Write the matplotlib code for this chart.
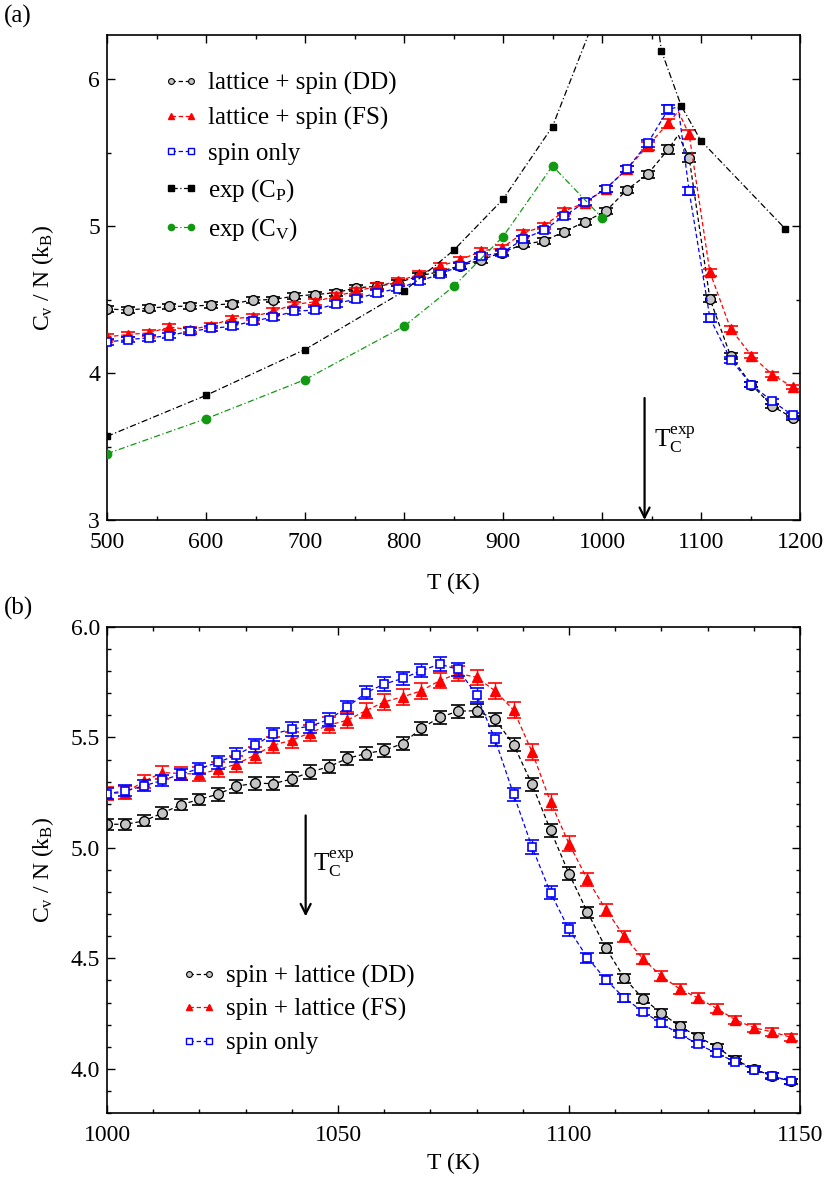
import matplotlib
matplotlib.use("Agg")
import matplotlib.pyplot as plt
from matplotlib.lines import Line2D
from matplotlib.ticker import MultipleLocator, FormatStrFormatter

plt.rcParams['font.family'] = ['Liberation Serif', 'DejaVu Serif']
plt.rcParams['mathtext.fontset'] = 'custom'
plt.rcParams['mathtext.rm'] = 'Liberation Serif'
plt.rcParams['mathtext.it'] = 'Liberation Serif:italic'
plt.rcParams['font.size'] = 17

# ---------------- Panel (a) data ----------------
T_a = [500, 521, 542, 563, 584, 605, 626, 647, 668, 689, 710, 731, 752, 773, 794,
       815, 836, 857, 878, 899, 920, 941, 962, 983, 1004, 1025, 1046, 1067, 1088,
       1109, 1130, 1151, 1172, 1193]
dd_a = [4.437, 4.428, 4.441, 4.453, 4.455, 4.462, 4.471, 4.496, 4.500, 4.523, 4.534,
        4.546, 4.580, 4.590, 4.615, 4.660, 4.690, 4.730, 4.770, 4.820, 4.875, 4.898,
        4.962, 5.030, 5.102, 5.246, 5.352, 5.523, 5.466, 4.505, 4.114, 3.921, 3.774, 3.694]
fs_a = [4.246, 4.262, 4.273, 4.312, 4.296, 4.323, 4.369, 4.382, 4.421, 4.466, 4.485,
        4.523, 4.557, 4.591, 4.625, 4.671, 4.727, 4.770, 4.830, 4.853, 4.950, 5.000,
        5.102, 5.159, 5.255, 5.387, 5.545, 5.700, 5.625, 4.686, 4.300, 4.119, 3.989, 3.903]
sp_a = [4.210, 4.228, 4.239, 4.255, 4.284, 4.303, 4.318, 4.353, 4.380, 4.421, 4.428,
        4.471, 4.505, 4.546, 4.575, 4.625, 4.671, 4.730, 4.796, 4.818, 4.909, 4.973,
        5.068, 5.164, 5.255, 5.387, 5.562, 5.795, 5.239, 4.375, 4.091, 3.921, 3.807, 3.712]
err_a = [0.02] * 26 + [0.025, 0.03, 0.03, 0.025, 0.02, 0.015, 0.015, 0.015]

# extra (unmarked) vertex of the curves near the peak
T_peak = 1077
dd_peak = 5.62
fs_peak = 5.78
sp_peak = 5.81

T_cp = [500, 600, 700, 800, 850, 900, 950, 1040, 1060, 1080, 1100, 1185]
cp_exp = [3.569, 3.848, 4.160, 4.557, 4.834, 5.182, 5.677, 7.23, 6.193, 5.818, 5.580, 4.982]
T_cv = [500, 600, 700, 800, 850, 900, 950, 1000]
cv_exp = [3.451, 3.689, 3.955, 4.318, 4.589, 4.928, 5.409, 5.057]

Tc_exp = 1043

# ---------------- Panel (b) data ----------------
T_b = [1000, 1004, 1008, 1012, 1016, 1020, 1024, 1028, 1032, 1036, 1040, 1044, 1048,
       1052, 1056, 1060, 1064, 1068, 1072, 1076, 1080, 1084, 1088, 1092, 1096, 1100,
       1104, 1108, 1112, 1116, 1120, 1124, 1128, 1132, 1136, 1140, 1144, 1148]
dd_b = [5.107, 5.107, 5.122, 5.158, 5.195, 5.220, 5.243, 5.279, 5.293, 5.291, 5.312,
        5.344, 5.367, 5.405, 5.427, 5.442, 5.472, 5.541, 5.591, 5.619, 5.621, 5.582,
        5.468, 5.288, 5.080, 4.883, 4.709, 4.546, 4.410, 4.318, 4.252, 4.192, 4.145,
        4.098, 4.041, 3.999, 3.968, 3.943]
fs_b = [5.246, 5.250, 5.302, 5.341, 5.337, 5.334, 5.355, 5.379, 5.420, 5.465, 5.488,
        5.521, 5.556, 5.578, 5.621, 5.661, 5.684, 5.711, 5.757, 5.790, 5.772, 5.711,
        5.624, 5.435, 5.208, 5.019, 4.857, 4.720, 4.599, 4.498, 4.420, 4.361, 4.320,
        4.273, 4.222, 4.186, 4.167, 4.143]
sp_b = [5.246, 5.258, 5.281, 5.306, 5.334, 5.359, 5.387, 5.420, 5.465, 5.515, 5.538,
        5.551, 5.581, 5.637, 5.702, 5.742, 5.767, 5.802, 5.832, 5.808, 5.692, 5.491,
        5.243, 5.004, 4.797, 4.631, 4.503, 4.403, 4.320, 4.259, 4.206, 4.156, 4.111,
        4.070, 4.032, 3.996, 3.968, 3.943]
dd_err_b = [0.025] * 6 + [0.03] * 20 + [0.025, 0.022, 0.02, 0.02, 0.019, 0.018, 0.017,
                                         0.016, 0.015, 0.014, 0.013, 0.012]
fs_err_b = [0.03] * 6 + [0.035] * 20 + [0.03, 0.027, 0.025, 0.024, 0.023, 0.022, 0.021,
                                         0.02, 0.019, 0.018, 0.017, 0.016]
sp_err_b = [0.025] * 6 + [0.03] * 20 + [0.022, 0.02, 0.018, 0.016, 0.015, 0.014, 0.013,
                                         0.012, 0.012, 0.011, 0.011, 0.01]

labels_a = ['lattice + spin (DD)', 'lattice + spin (FS)', 'spin only',
            r'exp (C$_\mathrm{P}$)', r'exp (C$_\mathrm{V}$)']
labels_b = ['spin + lattice (DD)', 'spin + lattice (FS)', 'spin only']

# ---------------- styles ----------------
GREY = '#c4c4c4'
GREEN = '#119911'
sty = {
    'dd': dict(color='black', marker='o', mfc=GREY, mec='black', ms=7.0, mew=1.0),
    'fs': dict(color='red', marker='^', mfc='red', mec='red', ms=7.0, mew=1.0),
    'sp': dict(color='blue', marker='s', mfc='white', mec='blue', ms=6.2, mew=1.2),
}
dash = (0, (3.5, 2.2))
dashdot = (0, (5, 2, 1, 2))

W, H = 830, 1183
fig = plt.figure(figsize=(W / 100, H / 100), dpi=100)
axA = fig.add_axes([107 / W, 1 - 520 / H, 693 / W, 485 / H])
axB = fig.add_axes([107 / W, 1 - 1113 / H, 693 / W, 486 / H])


def style_axes(ax):
    ax.tick_params(which='both', direction='in', top=True, right=True,
                   labelsize=17, width=1.0)
    ax.tick_params(which='major', length=6)
    ax.tick_params(which='minor', length=3)
    ax.tick_params(axis='y', which='major', pad=5)
    ax.tick_params(axis='x', which='major', pad=8.5)
    for s in ax.spines.values():
        s.set_linewidth(1.2)


def draw_sim(ax, T, y, err, key, peakT=None, peakY=None, z=2):
    s = sty[key]
    if peakT is not None:
        pts = sorted(list(zip(T, y)) + [(peakT, peakY)])
        lx = [p[0] for p in pts]
        ly = [p[1] for p in pts]
    else:
        lx, ly = T, y
    ax.plot(lx, ly, color=s['color'], lw=0.9, ls=dash, zorder=z)
    ax.errorbar(T, y, yerr=err, fmt='none', ecolor=s['color'], elinewidth=1.0,
                capsize=5, capthick=1.2, zorder=z + 0.1)
    ax.plot(T, y, ls='none', marker=s['marker'], mfc=s['mfc'], mec=s['mec'],
            ms=s['ms'], mew=s['mew'], zorder=z + 0.2)


# ---------------- Panel (a) ----------------
draw_sim(axA, T_a, dd_a, err_a, 'dd', T_peak, dd_peak, z=2)
draw_sim(axA, T_a, fs_a, err_a, 'fs', T_peak, fs_peak, z=3)
draw_sim(axA, T_a, sp_a, err_a, 'sp', T_peak, sp_peak, z=4)
axA.plot(T_cp, cp_exp, color='black', lw=0.9, ls=dashdot, marker='s', ms=5,
         mfc='black', mec='black', zorder=5)
axA.plot(T_cv, cv_exp, color=GREEN, lw=0.9, ls=dashdot, marker='o', ms=6,
         mfc=GREEN, mec=GREEN, zorder=5)

axA.set_xlim(500, 1200)
axA.set_ylim(3, 6.3)
axA.xaxis.set_major_locator(MultipleLocator(100))
axA.xaxis.set_minor_locator(MultipleLocator(50))
axA.yaxis.set_major_locator(MultipleLocator(1))
axA.yaxis.set_minor_locator(MultipleLocator(0.5))
style_axes(axA)
axA.set_xlabel('T (K)', fontsize=17)
axA.set_ylabel(r'C$_\mathrm{v}$ / N (k$_\mathrm{B}$)', fontsize=17)
axA.xaxis.set_label_coords(0.5, -0.108)
axA.yaxis.set_label_coords(-0.073, 0.5)

axA.annotate('', xy=(Tc_exp, 3.0), xytext=(Tc_exp, 3.83),
             arrowprops=dict(arrowstyle='->', color='black', lw=1.6,
                             shrinkA=0, shrinkB=0, mutation_scale=18))
axA.text(1053, 3.55, r'T$_\mathrm{C}^\mathrm{exp}$', fontsize=18, ha='left', va='center')

hA = [
    Line2D([], [], color='black', ls=dash, lw=0.9, marker='o', mfc=GREY, mec='black', ms=4.2, mew=0.8),
    Line2D([], [], color='red', ls=dash, lw=0.9, marker='^', mfc='red', mec='red', ms=4.5),
    Line2D([], [], color='blue', ls=dash, lw=0.9, marker='s', mfc='white', mec='blue', ms=4.0, mew=1.0),
    Line2D([], [], color='black', ls=dashdot, lw=0.9, marker='s', mfc='black', mec='black', ms=4.0),
    Line2D([], [], color=GREEN, ls=dashdot, lw=0.9, marker='o', mfc=GREEN, mec=GREEN, ms=4.5),
]
axA.legend(hA, labels_a, loc='upper left', bbox_to_anchor=(0.082, 0.924), frameon=False,
           fontsize=18, handlelength=1.4, handletextpad=0.35, labelspacing=0.49,
           borderaxespad=0, borderpad=0, numpoints=2)

fig.text(4 / W, 1 - 16 / H, '(a)', fontsize=18, ha='left', va='center')

# ---------------- Panel (b) ----------------
draw_sim(axB, T_b, dd_b, dd_err_b, 'dd', z=2)
draw_sim(axB, T_b, fs_b, fs_err_b, 'fs', z=3)
draw_sim(axB, T_b, sp_b, sp_err_b, 'sp', z=4)

axB.set_xlim(1000, 1150)
axB.set_ylim(3.8, 6.0)
axB.xaxis.set_major_locator(MultipleLocator(50))
axB.xaxis.set_minor_locator(MultipleLocator(10))
axB.yaxis.set_major_locator(MultipleLocator(0.5))
axB.yaxis.set_minor_locator(MultipleLocator(0.1))
axB.yaxis.set_major_formatter(FormatStrFormatter('%.1f'))
style_axes(axB)
axB.set_xlabel('T (K)', fontsize=17)
axB.set_ylabel(r'C$_\mathrm{v}$ / N (k$_\mathrm{B}$)', fontsize=17)
axB.xaxis.set_label_coords(0.5, -0.082)
axB.yaxis.set_label_coords(-0.073, 0.5)

axB.annotate('', xy=(Tc_exp, 4.69), xytext=(Tc_exp, 5.147),
             arrowprops=dict(arrowstyle='->', color='black', lw=1.6,
                             shrinkA=0, shrinkB=0, mutation_scale=18))
axB.text(1044.5, 4.93, r'T$_\mathrm{C}^\mathrm{exp}$', fontsize=18, ha='left', va='center')

hB = hA[:3]
axB.legend(hB, labels_b, loc='upper left', bbox_to_anchor=(0.108, 0.305), frameon=False,
           fontsize=18, handlelength=1.4, handletextpad=0.35, labelspacing=0.42,
           borderaxespad=0, borderpad=0, numpoints=2)

fig.text(4 / W, 1 - 608 / H, '(b)', fontsize=18, ha='left', va='center')

fig.savefig('out.png', dpi=100)
